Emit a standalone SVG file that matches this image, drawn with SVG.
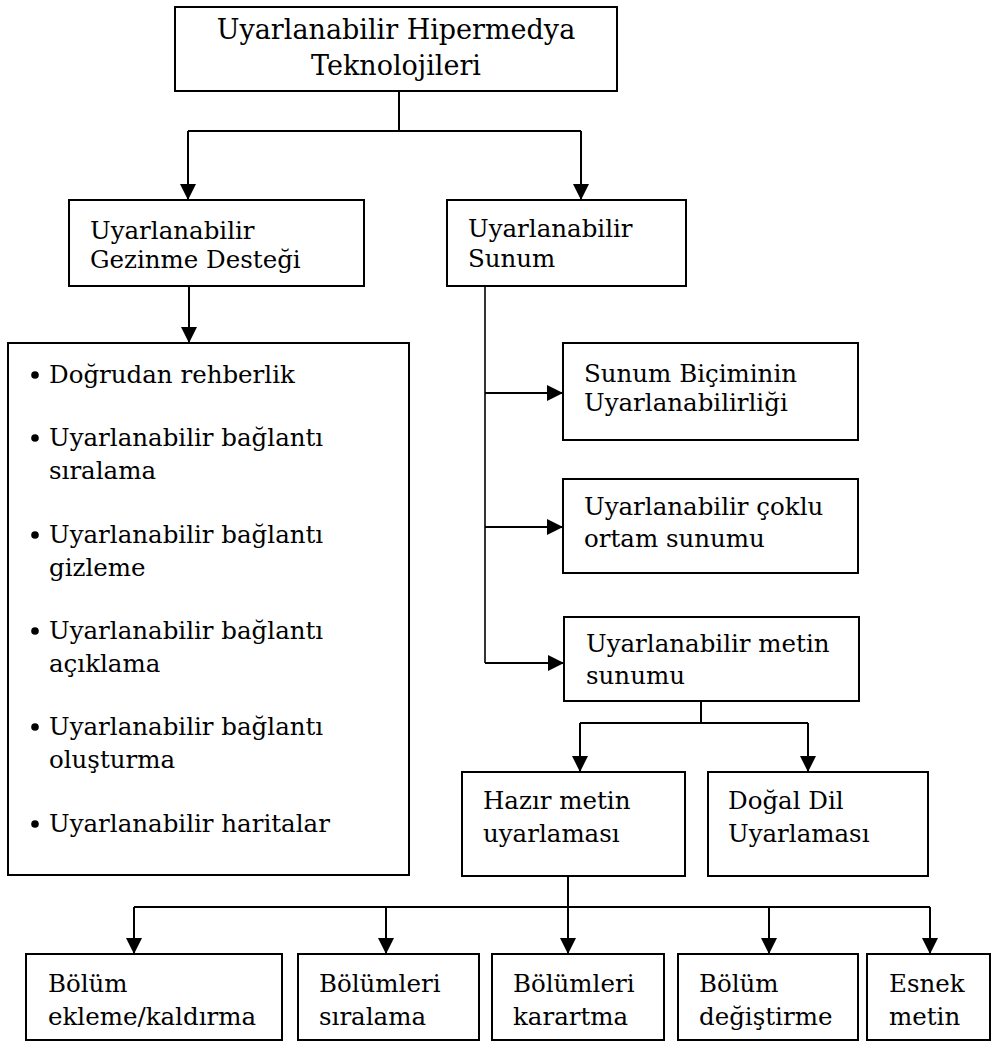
<svg xmlns="http://www.w3.org/2000/svg" width="992" height="1045" viewBox="0 0 992 1045">
<style>
.box{fill:#fff;stroke:#000;stroke-width:2}
.t{font-family:"DejaVu Serif","Liberation Serif",serif;font-size:24.5px;fill:#000}
.tt{font-family:"DejaVu Serif","Liberation Serif",serif;font-size:27px;fill:#000;text-anchor:middle}
.c{fill:none;stroke:#000;stroke-width:2}
.a{fill:none;stroke:#000;stroke-width:2;marker-end:url(#ah)}
</style>
<defs>
<marker id="ah" markerUnits="userSpaceOnUse" markerWidth="16" markerHeight="16" viewBox="0 0 15 15" refX="15" refY="7.5" orient="auto">
<path d="M0,0 L15,7.5 L0,15 z" fill="#000"/>
</marker>
</defs>
<rect width="992" height="1045" fill="#fff"/>
<g id="connectors">
<path class="c" d="M399,91 V131 M188,131 H581"/>
<path class="a" d="M188,131 V200"/>
<path class="a" d="M581,131 V200"/>
<path class="a" d="M189,286 V343"/>
<path class="c" d="M485,286 V663" style="stroke-width:1.6"/>
<path class="a" d="M485,393 H563"/>
<path class="a" d="M485,527 H563"/>
<path class="a" d="M485,663 H564"/>
<path class="c" d="M701,701 V723 M580,723 H808"/>
<path class="a" d="M580,723 V772"/>
<path class="a" d="M808,723 V772"/>
<path class="c" d="M134,907 H930"/>
<path class="a" d="M568,876 V954"/>
<path class="a" d="M134,907 V954"/>
<path class="a" d="M386,907 V954"/>
<path class="a" d="M769,907 V954"/>
<path class="a" d="M930,907 V954"/>
</g>
<g id="n-root">
<rect class="box" x="175" y="7" width="442" height="84"/>
<text class="tt" x="396" y="39">Uyarlanabilir Hipermedya</text>
<text class="tt" x="396" y="75">Teknolojileri</text>
</g>
<g id="n-gezinme">
<rect class="box" x="69" y="200" width="295" height="86"/>
<text class="t" x="90" y="239">Uyarlanabilir</text>
<text class="t" x="90" y="268">Gezinme Desteği</text>
</g>
<g id="n-sunum">
<rect class="box" x="447" y="200" width="239" height="86"/>
<text class="t" x="468" y="237">Uyarlanabilir</text>
<text class="t" x="468" y="267">Sunum</text>
</g>
<g id="n-list">
<rect class="box" x="8" y="343" width="401" height="532"/>
<circle cx="35" cy="375" r="3.8"/>
<text class="t" x="49" y="383">Doğrudan rehberlik</text>
<circle cx="35" cy="438" r="3.8"/>
<text class="t" x="49" y="446">Uyarlanabilir bağlantı</text>
<text class="t" x="49" y="479">sıralama</text>
<circle cx="35" cy="535" r="3.8"/>
<text class="t" x="49" y="543">Uyarlanabilir bağlantı</text>
<text class="t" x="49" y="576">gizleme</text>
<circle cx="35" cy="631" r="3.8"/>
<text class="t" x="49" y="639">Uyarlanabilir bağlantı</text>
<text class="t" x="49" y="672">açıklama</text>
<circle cx="35" cy="727" r="3.8"/>
<text class="t" x="49" y="735">Uyarlanabilir bağlantı</text>
<text class="t" x="49" y="768">oluşturma</text>
<circle cx="35" cy="824" r="3.8"/>
<text class="t" x="49" y="832">Uyarlanabilir haritalar</text>
</g>
<g id="n-bicim">
<rect class="box" x="563" y="343" width="295" height="97"/>
<text class="t" x="584" y="382">Sunum Biçiminin</text>
<text class="t" x="584" y="411">Uyarlanabilirliği</text>
</g>
<g id="n-coklu">
<rect class="box" x="563" y="479" width="295" height="94"/>
<text class="t" x="584" y="515">Uyarlanabilir çoklu</text>
<text class="t" x="584" y="547">ortam sunumu</text>
</g>
<g id="n-metin">
<rect class="box" x="564" y="617" width="295" height="84"/>
<text class="t" x="586" y="652">Uyarlanabilir metin</text>
<text class="t" x="586" y="684">sunumu</text>
</g>
<g id="n-hazir">
<rect class="box" x="462" y="772" width="223" height="104"/>
<text class="t" x="483" y="809">Hazır metin</text>
<text class="t" x="483" y="842">uyarlaması</text>
</g>
<g id="n-dogal">
<rect class="box" x="708" y="772" width="220" height="104"/>
<text class="t" x="728" y="809">Doğal Dil</text>
<text class="t" x="728" y="842">Uyarlaması</text>
</g>
<g id="n-b1">
<rect class="box" x="26" y="954" width="256" height="86"/>
<text class="t" x="48" y="992">Bölüm</text>
<text class="t" x="48" y="1025">ekleme/kaldırma</text>
</g>
<g id="n-b2">
<rect class="box" x="298" y="954" width="181" height="86"/>
<text class="t" x="319" y="992">Bölümleri</text>
<text class="t" x="319" y="1025">sıralama</text>
</g>
<g id="n-b3">
<rect class="box" x="492" y="954" width="172" height="86"/>
<text class="t" x="513" y="992">Bölümleri</text>
<text class="t" x="513" y="1025">karartma</text>
</g>
<g id="n-b4">
<rect class="box" x="678" y="954" width="180" height="86"/>
<text class="t" x="699" y="992">Bölüm</text>
<text class="t" x="699" y="1025">değiştirme</text>
</g>
<g id="n-b5">
<rect class="box" x="867" y="954" width="123" height="86"/>
<text class="t" x="889" y="992">Esnek</text>
<text class="t" x="889" y="1025">metin</text>
</g>
</svg>
